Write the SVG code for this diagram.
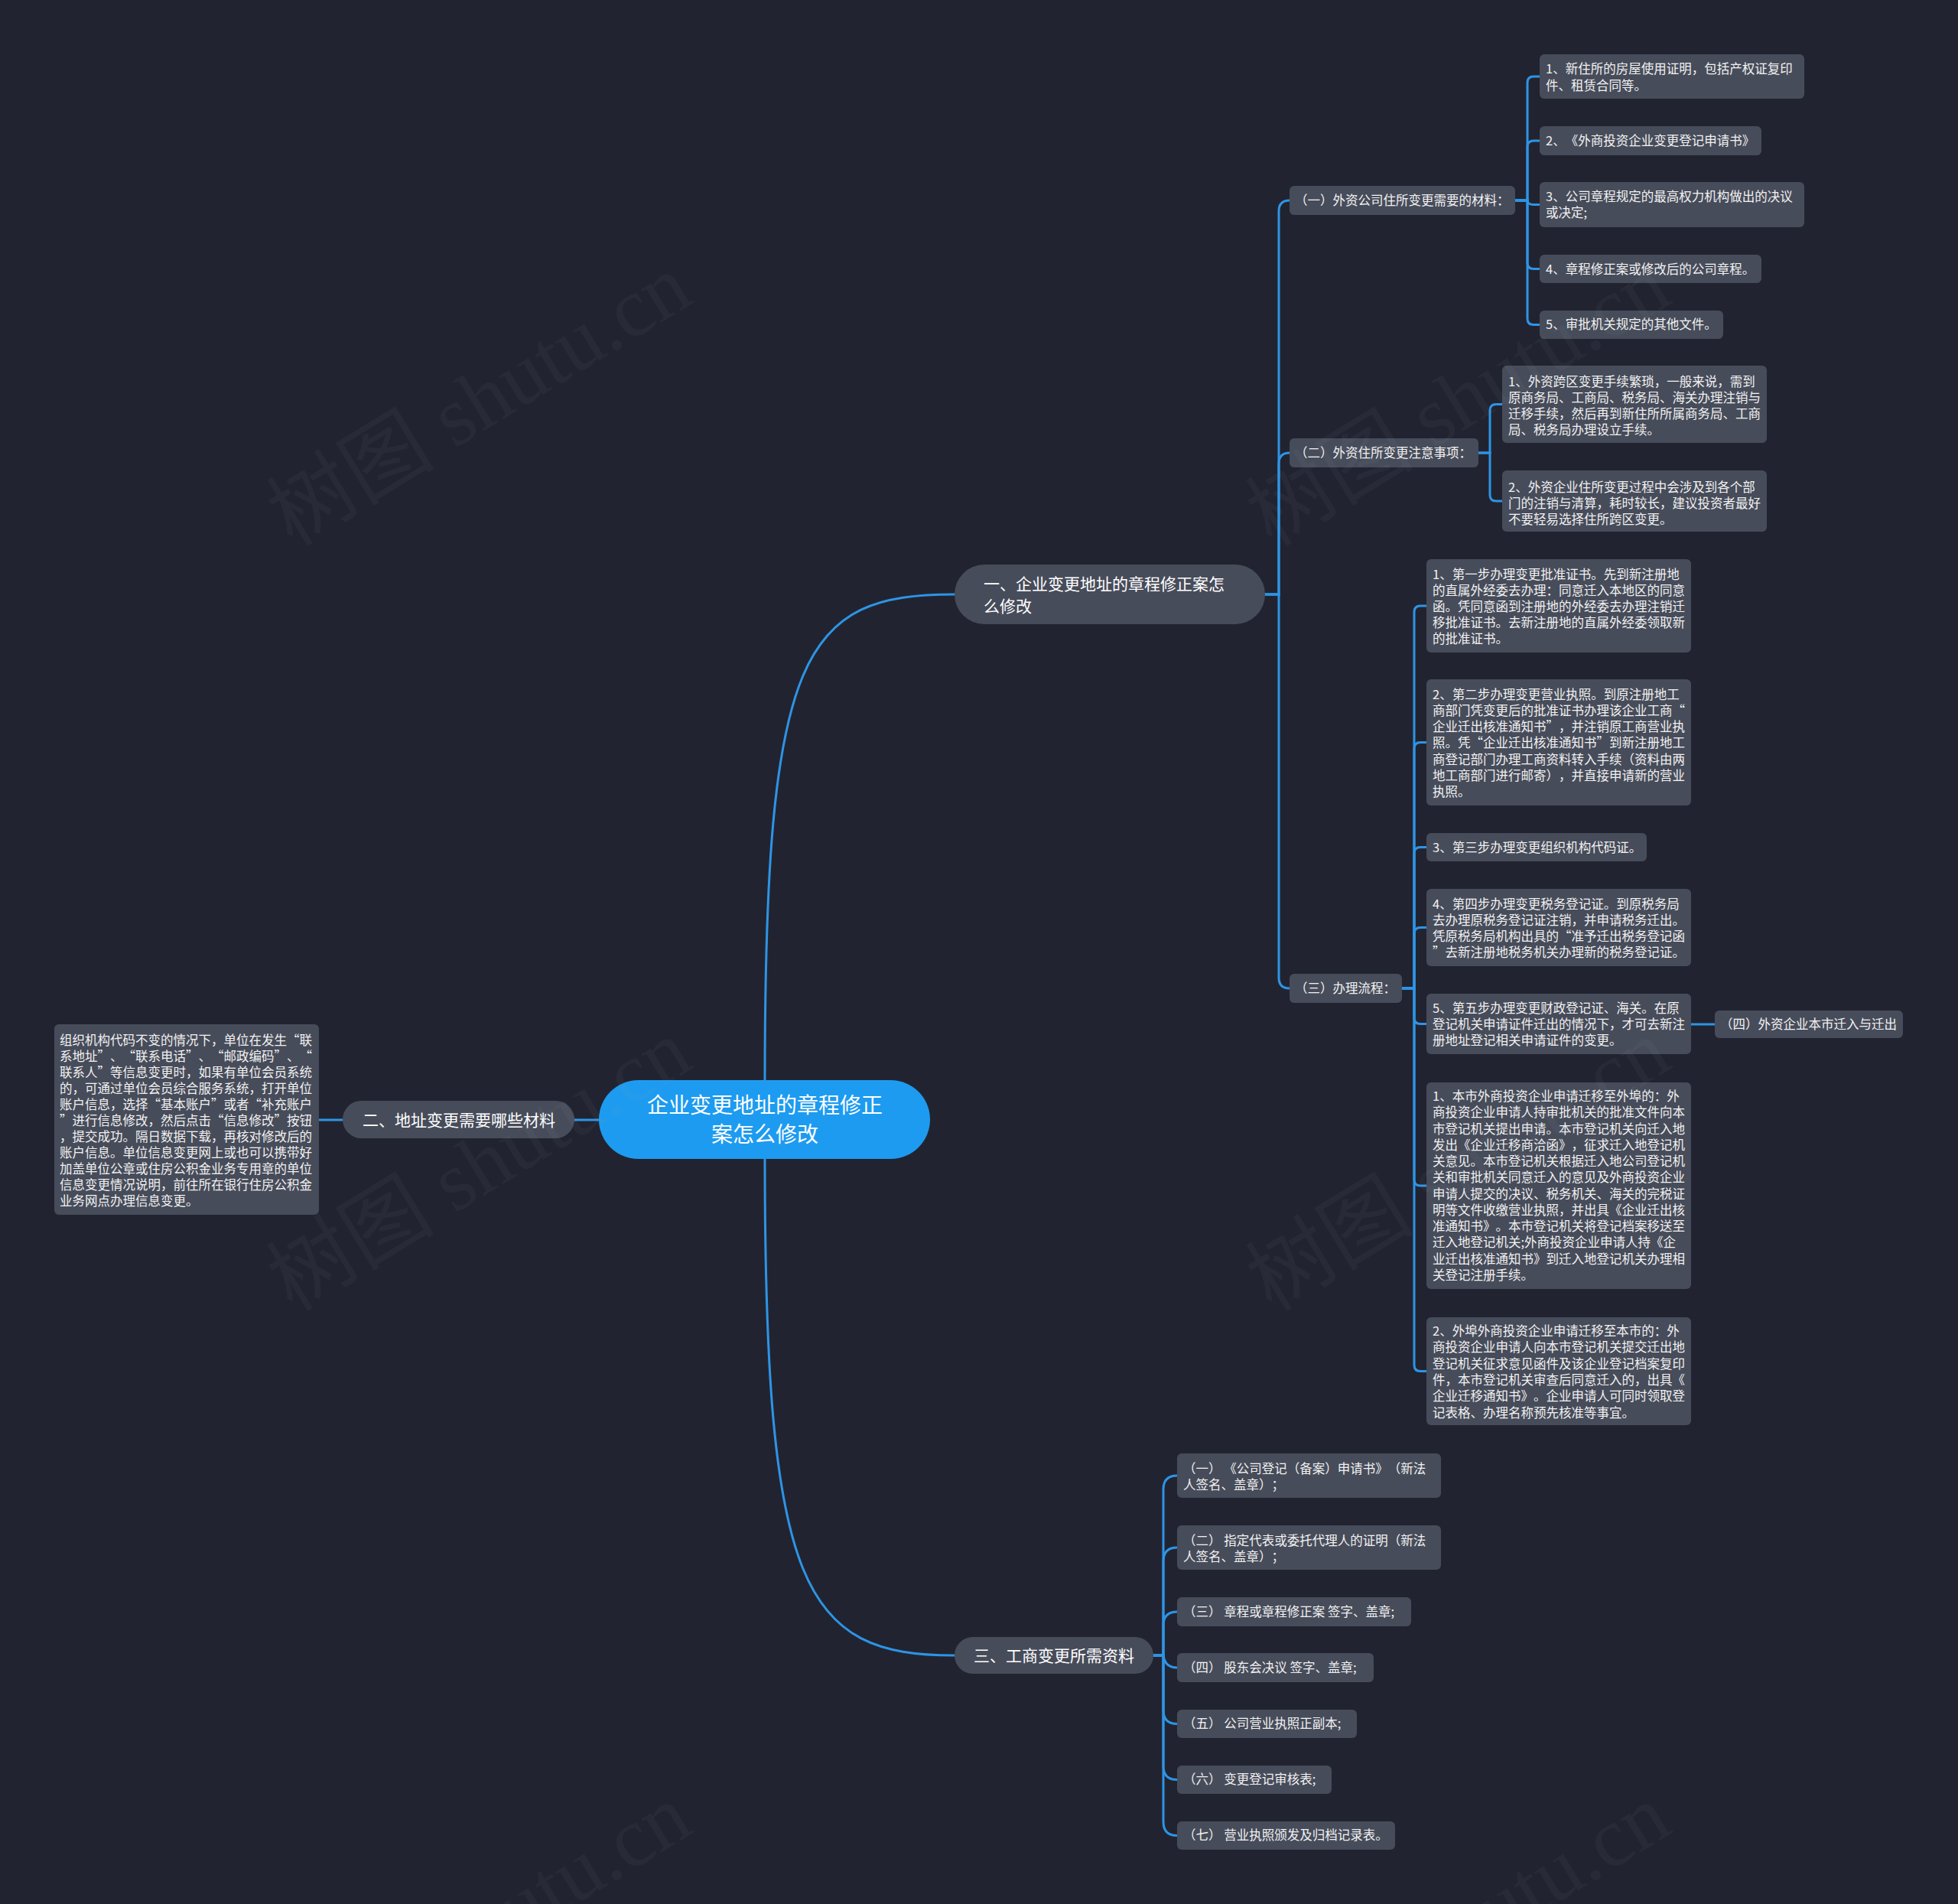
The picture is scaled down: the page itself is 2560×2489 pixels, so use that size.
<svg xmlns="http://www.w3.org/2000/svg" width="2560" height="2489" viewBox="0 0 2560 2489">
<style>
.bg{fill:#212430}
.box{fill:#474c5a}
.branch{fill:#474c5a}
.root{fill:#1d9bf0}
.t{font-family:"Noto Sans CJK SC","Microsoft YaHei",sans-serif;fill:#f2f2f2;text-spacing-trim:space-all;font-feature-settings:"chws" 0,"halt" 0}
.c{font-size:16.5px}
.l{font-size:16.5px}
.b{font-size:21px;fill:#ffffff}
.r{font-size:28px;fill:#ffffff}
.conn path{fill:none;stroke:#2e94e6;stroke-width:3;stroke-linecap:round}
.wm{font-family:"Liberation Serif","Noto Sans CJK SC",serif;font-size:110px;fill:#9aa0aa;opacity:0.06}
</style>
<rect class="bg" x="0" y="0" width="2560" height="2489"/>

<g class="conn" id="connectors">
<path d="M1000 1412 C1000 850 1050 777 1248 777"/>
<path d="M1000 1515 C1000 2077 1050 2164 1248 2164"/>
<path d="M783 1464 H751"/>
<path d="M448 1464 H417"/>
<path d="M1654 777 H1672 V276 Q1672 262 1686 262"/>
<path d="M1654 777 H1672 V606 Q1672 592 1686 592"/>
<path d="M1654 777 H1672 V1278 Q1672 1292 1686 1292"/>
<path d="M1981 262 H1997 V108 Q1997 100 2005 100 H2013"/>
<path d="M1981 262 H1997 V192 Q1997 184 2005 184 H2013"/>
<path d="M1981 262 H1997 Q1997 267.5 2005 267.5 H2013"/>
<path d="M1981 262 H1997 V343.5 Q1997 351.5 2005 351.5 H2013"/>
<path d="M1981 262 H1997 V416.5 Q1997 424.5 2005 424.5 H2013"/>
<path d="M1933 592 H1948 V536.5 Q1948 528.5 1956 528.5 H1964"/>
<path d="M1933 592 H1948 V647 Q1948 655 1956 655 H1964"/>
<path d="M1833 1292 H1849 V800 Q1849 792 1857 792 H1865"/>
<path d="M1833 1292 H1849 V978.5 Q1849 970.5 1857 970.5 H1865"/>
<path d="M1833 1292 H1849 V1115.5 Q1849 1107.5 1857 1107.5 H1865"/>
<path d="M1833 1292 H1849 V1220.5 Q1849 1212.5 1857 1212.5 H1865"/>
<path d="M1833 1292 H1849 V1330.5 Q1849 1338.5 1857 1338.5 H1865"/>
<path d="M1833 1292 H1849 V1542 Q1849 1550 1857 1550 H1865"/>
<path d="M1833 1292 H1849 V1784.5 Q1849 1792.5 1857 1792.5 H1865"/>
<path d="M2211 1339 H2242"/>
<path d="M1508 2164 H1521 V1947 Q1521 1929 1539 1929"/>
<path d="M1508 2164 H1521 V2041 Q1521 2023 1539 2023"/>
<path d="M1508 2164 H1521 V2125 Q1521 2107 1539 2107"/>
<path d="M1508 2164 H1521 Q1523 2180 1539 2180"/>
<path d="M1508 2164 H1521 V2235.5 Q1521 2253.5 1539 2253.5"/>
<path d="M1508 2164 H1521 V2308.5 Q1521 2326.5 1539 2326.5"/>
<path d="M1508 2164 H1521 V2381.5 Q1521 2399.5 1539 2399.5"/>
</g>

<g id="root">
<rect class="root" x="783" y="1412" width="433" height="103" rx="51.5"/>
<text class="t r" text-anchor="middle"><tspan x="1000" y="1455">企业变更地址的章程修正</tspan><tspan x="1000" y="1493">案怎么修改</tspan></text>
</g>

<g id="branch1">
<rect class="branch" x="1248" y="738" width="406" height="78" rx="39"/>
<text class="t b"><tspan x="1286" y="770.5">一、企业变更地址的章程修正案怎</tspan><tspan x="1286" y="799.5">么修改</tspan></text>
</g>

<g id="branch2">
<rect class="branch" x="448" y="1439" width="303" height="49" rx="24.5"/>
<text class="t b" x="600" y="1471.5" text-anchor="middle">二、地址变更需要哪些材料</text>
</g>

<g id="branch2-detail">
<rect class="box" x="71" y="1339" width="346" height="249" rx="6"/>
<text class="t c"><tspan x="78" y="1366">组织机构代码不变的情况下，单位在发生“联</tspan><tspan x="78" y="1387">系地址”、“联系电话”、“邮政编码”、“</tspan><tspan x="78" y="1408">联系人”等信息变更时，如果有单位会员系统</tspan><tspan x="78" y="1429">的，可通过单位会员综合服务系统，打开单位</tspan><tspan x="78" y="1450">账户信息，选择“基本账户”或者“补充账户</tspan><tspan x="78" y="1471">”进行信息修改，然后点击“信息修改”按钮</tspan><tspan x="78" y="1492">，提交成功。隔日数据下载，再核对修改后的</tspan><tspan x="78" y="1513">账户信息。单位信息变更网上或也可以携带好</tspan><tspan x="78" y="1534">加盖单位公章或住房公积金业务专用章的单位</tspan><tspan x="78" y="1555">信息变更情况说明，前往所在银行住房公积金</tspan><tspan x="78" y="1576">业务网点办理信息变更。</tspan></text>
</g>

<g id="branch3">
<rect class="branch" x="1248" y="2140" width="260" height="48" rx="24"/>
<text class="t b" x="1378" y="2171.5" text-anchor="middle">三、工商变更所需资料</text>
</g>

<g id="sec1">
<rect class="box" x="1686" y="243" width="295" height="38" rx="6"/>
<text class="t l" x="1693" y="268">（一）外资公司住所变更需要的材料：</text>
</g>
<g id="sec1-1">
<rect class="box" x="2013" y="71" width="346" height="58" rx="6"/>
<text class="t c"><tspan x="2021" y="96">1、新住所的房屋使用证明，包括产权证复印</tspan><tspan x="2021" y="118">件、租赁合同等。</tspan></text>
</g>
<g id="sec1-2">
<rect class="box" x="2013" y="165" width="290" height="38" rx="6"/>
<text class="t c" x="2021" y="190">2、《外商投资企业变更登记申请书》</text>
</g>
<g id="sec1-3">
<rect class="box" x="2013" y="238" width="346" height="59" rx="6"/>
<text class="t c"><tspan x="2021" y="263">3、公司章程规定的最高权力机构做出的决议</tspan><tspan x="2021" y="284">或决定;</tspan></text>
</g>
<g id="sec1-4">
<rect class="box" x="2013" y="333" width="290" height="37" rx="6"/>
<text class="t c" x="2021" y="358">4、章程修正案或修改后的公司章程。</text>
</g>
<g id="sec1-5">
<rect class="box" x="2013" y="406" width="240" height="37" rx="6"/>
<text class="t c" x="2021" y="430">5、审批机关规定的其他文件。</text>
</g>

<g id="sec2">
<rect class="box" x="1686" y="573" width="247" height="38" rx="6"/>
<text class="t l" x="1693" y="598">（二）外资住所变更注意事项：</text>
</g>
<g id="sec2-1">
<rect class="box" x="1964" y="478" width="346" height="101" rx="6"/>
<text class="t c"><tspan x="1972" y="505">1、外资跨区变更手续繁琐，一般来说，需到</tspan><tspan x="1972" y="526">原商务局、工商局、税务局、海关办理注销与</tspan><tspan x="1972" y="547">迁移手续，然后再到新住所所属商务局、工商</tspan><tspan x="1972" y="568">局、税务局办理设立手续。</tspan></text>
</g>
<g id="sec2-2">
<rect class="box" x="1964" y="615" width="346" height="80" rx="6"/>
<text class="t c"><tspan x="1972" y="643">2、外资企业住所变更过程中会涉及到各个部</tspan><tspan x="1972" y="664">门的注销与清算，耗时较长，建议投资者最好</tspan><tspan x="1972" y="685">不要轻易选择住所跨区变更。</tspan></text>
</g>

<g id="sec3">
<rect class="box" x="1686" y="1273" width="147" height="38" rx="6"/>
<text class="t l" x="1693" y="1298">（三）办理流程：</text>
</g>
<g id="step1">
<rect class="box" x="1865" y="731" width="346" height="122" rx="6"/>
<text class="t c"><tspan x="1873" y="757">1、第一步办理变更批准证书。先到新注册地</tspan><tspan x="1873" y="778">的直属外经委去办理：同意迁入本地区的同意</tspan><tspan x="1873" y="799">函。凭同意函到注册地的外经委去办理注销迁</tspan><tspan x="1873" y="820">移批准证书。去新注册地的直属外经委领取新</tspan><tspan x="1873" y="841">的批准证书。</tspan></text>
</g>
<g id="step2">
<rect class="box" x="1865" y="888" width="346" height="165" rx="6"/>
<text class="t c"><tspan x="1873" y="914">2、第二步办理变更营业执照。到原注册地工</tspan><tspan x="1873" y="935">商部门凭变更后的批准证书办理该企业工商“</tspan><tspan x="1873" y="956">企业迁出核准通知书”，并注销原工商营业执</tspan><tspan x="1873" y="977">照。凭“企业迁出核准通知书”到新注册地工</tspan><tspan x="1873" y="999">商登记部门办理工商资料转入手续（资料由两</tspan><tspan x="1873" y="1020">地工商部门进行邮寄），并直接申请新的营业</tspan><tspan x="1873" y="1041">执照。</tspan></text>
</g>
<g id="step3">
<rect class="box" x="1865" y="1089" width="288" height="37" rx="6"/>
<text class="t c" x="1873" y="1114">3、第三步办理变更组织机构代码证。</text>
</g>
<g id="step4">
<rect class="box" x="1865" y="1162" width="346" height="101" rx="6"/>
<text class="t c"><tspan x="1873" y="1188">4、第四步办理变更税务登记证。到原税务局</tspan><tspan x="1873" y="1209">去办理原税务登记证注销，并申请税务迁出。</tspan><tspan x="1873" y="1230">凭原税务局机构出具的“准予迁出税务登记函</tspan><tspan x="1873" y="1251">”去新注册地税务机关办理新的税务登记证。</tspan></text>
</g>
<g id="step5">
<rect class="box" x="1865" y="1299" width="346" height="79" rx="6"/>
<text class="t c"><tspan x="1873" y="1324">5、第五步办理变更财政登记证、海关。在原</tspan><tspan x="1873" y="1345">登记机关申请证件迁出的情况下，才可去新注</tspan><tspan x="1873" y="1366">册地址登记相关申请证件的变更。</tspan></text>
</g>
<g id="sec4">
<rect class="box" x="2242" y="1321" width="246" height="36" rx="6"/>
<text class="t l" x="2249" y="1345">（四）外资企业本市迁入与迁出</text>
</g>
<g id="move1">
<rect class="box" x="1865" y="1415" width="346" height="270" rx="6"/>
<text class="t c"><tspan x="1873" y="1439">1、本市外商投资企业申请迁移至外埠的：外</tspan><tspan x="1873" y="1460">商投资企业申请人持审批机关的批准文件向本</tspan><tspan x="1873" y="1482">市登记机关提出申请。本市登记机关向迁入地</tspan><tspan x="1873" y="1503">发出《企业迁移商洽函》，征求迁入地登记机</tspan><tspan x="1873" y="1524">关意见。本市登记机关根据迁入地公司登记机</tspan><tspan x="1873" y="1545">关和审批机关同意迁入的意见及外商投资企业</tspan><tspan x="1873" y="1567">申请人提交的决议、税务机关、海关的完税证</tspan><tspan x="1873" y="1588">明等文件收缴营业执照，并出具《企业迁出核</tspan><tspan x="1873" y="1609">准通知书》。本市登记机关将登记档案移送至</tspan><tspan x="1873" y="1630">迁入地登记机关;外商投资企业申请人持《企</tspan><tspan x="1873" y="1652">业迁出核准通知书》到迁入地登记机关办理相</tspan><tspan x="1873" y="1673">关登记注册手续。</tspan></text>
</g>
<g id="move2">
<rect class="box" x="1865" y="1722" width="346" height="141" rx="6"/>
<text class="t c"><tspan x="1873" y="1746">2、外埠外商投资企业申请迁移至本市的：外</tspan><tspan x="1873" y="1767">商投资企业申请人向本市登记机关提交迁出地</tspan><tspan x="1873" y="1789">登记机关征求意见函件及该企业登记档案复印</tspan><tspan x="1873" y="1810">件，本市登记机关审查后同意迁入的，出具《</tspan><tspan x="1873" y="1831">企业迁移通知书》。企业申请人可同时领取登</tspan><tspan x="1873" y="1853">记表格、办理名称预先核准等事宜。</tspan></text>
</g>

<g id="mat1">
<rect class="box" x="1539" y="1900" width="345" height="58" rx="6"/>
<text class="t l"><tspan x="1547" y="1926">（一） 《公司登记（备案）申请书》（新法</tspan><tspan x="1547" y="1947">人签名、盖章）；</tspan></text>
</g>
<g id="mat2">
<rect class="box" x="1539" y="1994" width="345" height="58" rx="6"/>
<text class="t l"><tspan x="1547" y="2020">（二） 指定代表或委托代理人的证明（新法</tspan><tspan x="1547" y="2041">人签名、盖章）；</tspan></text>
</g>
<g id="mat3">
<rect class="box" x="1539" y="2088" width="306" height="38" rx="6"/>
<text class="t l" x="1547" y="2113">（三） 章程或章程修正案 签字、盖章;</text>
</g>
<g id="mat4">
<rect class="box" x="1539" y="2161" width="257" height="38" rx="6"/>
<text class="t l" x="1547" y="2186">（四） 股东会决议 签字、盖章;</text>
</g>
<g id="mat5">
<rect class="box" x="1539" y="2235" width="235" height="37" rx="6"/>
<text class="t l" x="1547" y="2259">（五） 公司营业执照正副本;</text>
</g>
<g id="mat6">
<rect class="box" x="1539" y="2308" width="202" height="37" rx="6"/>
<text class="t l" x="1547" y="2332">（六） 变更登记审核表;</text>
</g>
<g id="mat7">
<rect class="box" x="1539" y="2381" width="285" height="37" rx="6"/>
<text class="t l" x="1547" y="2405">（七） 营业执照颁发及归档记录表。</text>
</g>

<g id="watermark">
<text class="wm" text-anchor="middle" transform="translate(646 555) rotate(-31.4)">树图 shutu.cn</text>
<text class="wm" text-anchor="middle" transform="translate(646 1555) rotate(-31.4)">树图 shutu.cn</text>
<text class="wm" text-anchor="middle" transform="translate(646 2555) rotate(-31.4)">树图 shutu.cn</text>
<text class="wm" text-anchor="middle" transform="translate(1926 555) rotate(-31.4)">树图 shutu.cn</text>
<text class="wm" text-anchor="middle" transform="translate(1926 1555) rotate(-31.4)">树图 shutu.cn</text>
<text class="wm" text-anchor="middle" transform="translate(1926 2555) rotate(-31.4)">树图 shutu.cn</text>
</g>
</svg>
